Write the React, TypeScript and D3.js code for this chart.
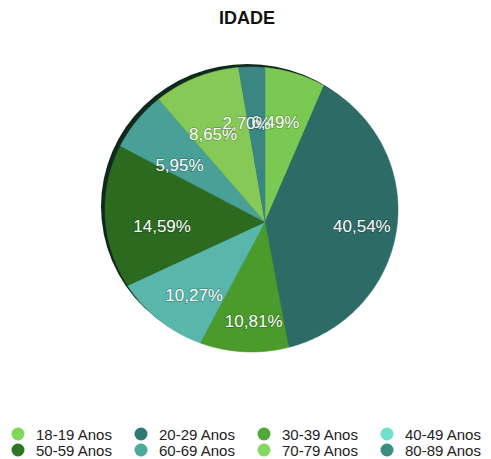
import React from "react";
import * as d3 from "d3";

const categories = ["18-19 Anos", "20-29 Anos", "30-39 Anos", "40-49 Anos", "50-59 Anos", "60-69 Anos", "70-79 Anos", "80-89 Anos"];
const values = [6.49, 40.54, 10.81, 10.27, 14.59, 5.95, 8.65, 2.7];
const sliceColors = ["#79c952", "#2d6b67", "#4a9a2c", "#58b6aa", "#2c6a1f", "#48a096", "#86c957", "#3a8682"];
const legendColors = ["#7ed957", "#2e7a74", "#4ea83a", "#6ee0cc", "#2f7526", "#4aaa9c", "#82d860", "#3a8c84"];
const title = "IDADE";

const W = 491, H = 459;
const apex = { x: 265, y: 222 };
const ell = { cx: 251.5, cy: 209.5, rx: 146.5, ry: 142.5 };

function rim(theta: number) {
  const dx = Math.sin(theta), dy = -Math.cos(theta);
  const px = (apex.x - ell.cx) / ell.rx, py = (apex.y - ell.cy) / ell.ry;
  const ux = dx / ell.rx, uy = dy / ell.ry;
  const a = ux * ux + uy * uy;
  const b = 2 * (px * ux + py * uy);
  const c = px * px + py * py - 1;
  const t = (-b + Math.sqrt(b * b - 4 * a * c)) / (2 * a);
  return { x: apex.x + t * dx, y: apex.y + t * dy };
}

const fmt = (v: number) => v.toFixed(2).replace(".", ",") + "%";

export default function App() {
  const pie = d3.pie<number>().sort(null).value((d) => d);
  const arcs = pie(values);
  const line = d3.line<{ x: number; y: number }>().x((d) => d.x).y((d) => d.y);
  const labelArc = d3.arc<d3.PieArcDatum<number>>().innerRadius(100).outerRadius(100);
  const rot = (-4 * Math.PI) / 180;

  const slices = arcs.map((a, i) => {
    const n = Math.max(4, Math.ceil(((a.endAngle - a.startAngle) * 180) / Math.PI));
    const pts = [{ x: apex.x, y: apex.y }];
    for (let k = 0; k <= n; k++) {
      pts.push(rim(a.startAngle + ((a.endAngle - a.startAngle) * k) / n));
    }
    const [cx, cy] = labelArc.centroid({ ...a, startAngle: a.startAngle + rot, endAngle: a.endAngle + rot });
    return { d: line(pts)! + "Z", color: sliceColors[i], lx: 262 + cx, ly: 222 + cy, label: fmt(values[i]) };
  });

  const colX = [18, 141, 264, 387];
  const rowY = [434, 450];

  return (
    <svg width={W} height={H} style={{ position: "absolute", left: 0, top: 0 }} fontFamily="'Liberation Sans', Arial, Helvetica, sans-serif">
      <rect width={W} height={H} fill="#fff" />
      <text x={247} y={24} textAnchor="middle" fontWeight="bold" fontSize={18} fill="#111">{title}</text>
      <ellipse cx={ell.cx - 4} cy={ell.cy - 3} rx={ell.rx} ry={ell.ry} fill="#10291d" />
      {slices.map((s, i) => (
        <path key={i} d={s.d} fill={s.color} stroke={s.color} strokeWidth={0.5} />
      ))}
      {slices.map((s, i) => (
        <text key={"l" + i} x={s.lx} y={s.ly} textAnchor="middle" dominantBaseline="central" fontSize={17}
          fill="#fff" stroke="rgba(0,0,0,0.25)" strokeWidth={1.5} paintOrder="stroke">{s.label}</text>
      ))}
      {categories.map((c, i) => {
        const x = colX[i % 4];
        const y = rowY[Math.floor(i / 4)];
        return (
          <g key={"g" + i}>
            <circle cx={x} cy={y} r={6.5} fill={legendColors[i]} />
            <text x={x + 18} y={y} dominantBaseline="central" fontSize={15} fill="#222">{c}</text>
          </g>
        );
      })}
    </svg>
  );
}
